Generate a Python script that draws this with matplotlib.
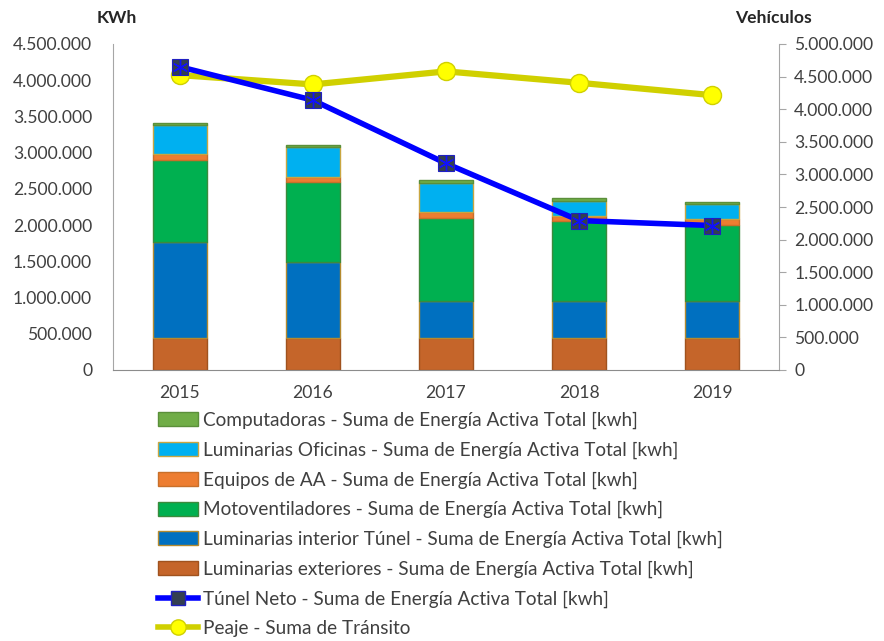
import matplotlib
matplotlib.use("Agg")
import matplotlib.pyplot as plt
import numpy as np

years = ["2015", "2016", "2017", "2018", "2019"]
exteriores = [447000, 447000, 447000, 447000, 447000]
interior_tunel = [1316000, 1044000, 508000, 508000, 508000]
motoventiladores = [1131000, 1103000, 1145000, 1099000, 1043000]
equipos_aa = [83000, 74000, 78000, 78000, 88000]
luminarias_oficinas = [401000, 415000, 407000, 199000, 208000]
computadoras = [38000, 28000, 36000, 46000, 28000]
tunel_neto = [4186000, 3725000, 2852000, 2063000, 1994000]
peaje = [4523000, 4380000, 4580000, 4405000, 4215000]

labels = [
    "Computadoras - Suma de Energía Activa Total [kwh]",
    "Luminarias Oficinas - Suma de Energía Activa Total [kwh]",
    "Equipos de AA - Suma de Energía Activa Total [kwh]",
    "Motoventiladores - Suma de Energía Activa Total [kwh]",
    "Luminarias interior Túnel - Suma de Energía Activa Total [kwh]",
    "Luminarias exteriores - Suma de Energía Activa Total [kwh]",
    "Túnel Neto - Suma de Energía Activa Total [kwh]",
    "Peaje - Suma de Tránsito",
]

plt.rcParams['font.family'] = ['Lato', 'DejaVu Sans']
FS = 13.7
TFS = 12.6
W, H = 884, 641
fig = plt.figure(figsize=(W / 100, H / 100), dpi=100)
L, R, T, B = 113, 779, 44, 370
ax = fig.add_axes([L / W, 1 - B / H, (R - L) / W, (B - T) / H])
ax2 = ax.twinx()

x = np.arange(len(years))
stack = [
    (exteriores, "#C5652A", "#A0521E", labels[5]),
    (interior_tunel, "#0070C0", "#B48A2E", labels[4]),
    (motoventiladores, "#00B050", "#3C8A3C", labels[3]),
    (equipos_aa, "#ED7D31", "#C8702A", labels[2]),
    (luminarias_oficinas, "#00B0F0", "#C9A640", labels[1]),
    (computadoras, "#70AD47", "#5B8F3A", labels[0]),
]
bottom = np.zeros(len(years))
handles = {}
for vals, fc, ec, lab in stack:
    h = ax.bar(x, vals, width=0.405, bottom=bottom, color=fc, edgecolor=ec,
               linewidth=1.0, label=lab, zorder=2)
    handles[lab] = h
    bottom += np.array(vals)

# Túnel Neto line (left axis)
ln1, = ax.plot(x, tunel_neto, color="#0000FF", linewidth=4, zorder=5,
               marker="s", markersize=12, markerfacecolor="#333F50",
               markeredgecolor="#2020C0", markeredgewidth=0.8)
ax.plot(x, tunel_neto, linestyle="none", marker=(6, 2, 0), markersize=11,
        markeredgecolor="#1010FF", markeredgewidth=1.0, zorder=6)

# Peaje line (right axis)
ln2, = ax2.plot(x, peaje, color="#D0D000", linewidth=4.5, zorder=5,
                marker="o", markersize=13, markerfacecolor="#FFFF00",
                markeredgecolor="#D0D000", markeredgewidth=1.0)

ax.set_xlim(-0.5, 4.5)
ax.set_ylim(0, 4500000)
ax2.set_ylim(0, 5000000)
ax.set_yticks(np.arange(0, 4500001, 500000))
ax2.set_yticks(np.arange(0, 5000001, 500000))

def fmt(v):
    return f"{int(v):,}".replace(",", ".")

ax.set_yticklabels([fmt(v) for v in ax.get_yticks()])
ax2.set_yticklabels([fmt(v) for v in ax2.get_yticks()])
ax.set_xticks(x)
ax.set_xticklabels(years)

txtc = "#404040"
ax.tick_params(axis="y", length=0, pad=15, labelsize=TFS, labelcolor=txtc)
ax.tick_params(axis="x", length=0, pad=11, labelsize=TFS, labelcolor=txtc)
ax2.tick_params(axis="y", length=5, direction="out", color="#A6A6A6",
                pad=6, labelsize=TFS, labelcolor=txtc)

for a in (ax, ax2):
    for s in a.spines.values():
        s.set_visible(False)
ax.spines["left"].set_visible(True)
ax.spines["bottom"].set_visible(True)
ax2.spines["right"].set_visible(True)
ax.spines["left"].set_color("#A6A6A6")
ax.spines["bottom"].set_color("#8C8C8C")
ax2.spines["right"].set_color("#A6A6A6")

ax.set_zorder(ax2.get_zorder() + 1)
ax.patch.set_visible(False)

fig.text(97 / W, 1 - 18 / H, "KWh", fontsize=TFS, fontweight="bold",
         color="#262626", ha="left", va="center")
fig.text(735 / W, 1 - 18 / H, "Vehículos", fontsize=TFS, fontweight="bold",
         color="#262626", ha="left", va="center")

# Legend
from matplotlib.lines import Line2D
leg_handles = [handles[labels[i]] for i in range(6)]
leg_tunel = Line2D([], [], color="#0000FF", linewidth=4, marker="s",
                   markersize=10, markerfacecolor="#333F50",
                   markeredgecolor="#2020C0")
leg_peaje = Line2D([], [], color="#D0D000", linewidth=4, marker="o",
                   markersize=11, markerfacecolor="#FFFF00",
                   markeredgecolor="#D0D000")
leg = fig.legend(leg_handles + [leg_tunel, leg_peaje], labels,
                 loc="upper left", bbox_to_anchor=(158 / W, 1 - 412 / H),
                 frameon=False, fontsize=FS, borderpad=0, borderaxespad=0,
                 handlelength=2.1, handleheight=0.75, handletextpad=0.25,
                 labelspacing=0.65, labelcolor=txtc)

fig.savefig("out.png", dpi=100)
